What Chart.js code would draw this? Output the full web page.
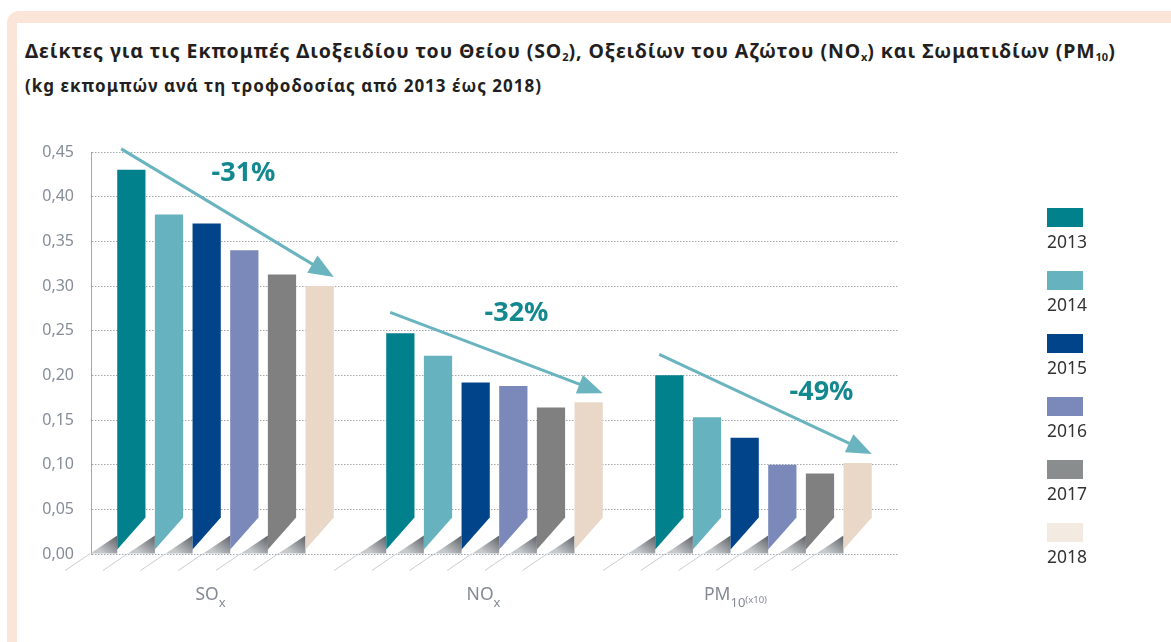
<!DOCTYPE html>
<html>
<head>
<meta charset="utf-8">
<script src="https://cdn.jsdelivr.net/npm/chart.js@4.4.0/dist/chart.umd.min.js"></script>
<style>
  body { margin: 0; width: 1171px; height: 642px; overflow: hidden; position: relative; background: #fff; font-family: "Noto Sans", sans-serif; }
  .frame { position: absolute; left: 7px; top: 11px; width: 1200px; height: 640px; box-sizing: border-box;
           border: solid #fbe5d9; border-width: 12px 0 3px 10px; border-radius: 12px 0 0 0; }
  .title { position: absolute; left: 25px; margin: 0; font-weight: 700; color: #231f20; white-space: nowrap; line-height: 20px; }
  #t1 { top: 41px; font-size: 19.5px; letter-spacing: 0.9px; }
  #t2 { top: 76px; font-size: 17px; letter-spacing: 1px; }
  .title sub { font-size: 11px; vertical-align: -3px; line-height: 0; letter-spacing: 0; }
  #chartBox { position: absolute; left: 0; top: 0; width: 1171px; height: 642px; }
  #legend { position: absolute; left: 1047px; top: 208px; }
  .item { height: 63px; }
  .box { width: 36px; height: 19px; }
  .lab { font-size: 17.5px; color: #333; line-height: 20px; margin-top: 4px; }
</style>
</head>
<body>
<div class="frame"></div>
<div class="title" id="t1">Δείκτες για τις Εκπομπές Διοξειδίου του Θείου (SO<sub>2</sub>), Οξειδίων του Αζώτου (NO<sub>x</sub>) και Σωματιδίων (PM<sub>10</sub>)</div>
<div class="title" id="t2">(kg εκπομπών ανά τη τροφοδοσίας από 2013 έως 2018)</div>
<div id="chartBox"><canvas id="c" width="1171" height="642"></canvas></div>
<div id="legend"></div>
<script>
// categories (x axis), split for subscripts
var categories = ['SOx', 'NOx', 'PM10(x10)'];
var categoryMain = ['SO', 'NO', 'PM'];
var categorySub = ['x', 'x', '10'];
var categorySup = ['', '', '(x10)'];

var years = ['2013', '2014', '2015', '2016', '2017', '2018'];

// kg per t
var values2013 = [0.430, 0.247, 0.200];
var values2014 = [0.380, 0.222, 0.153];
var values2015 = [0.370, 0.192, 0.130];
var values2016 = [0.340, 0.188, 0.100];
var values2017 = [0.313, 0.164, 0.090];
var values2018 = [0.300, 0.170, 0.102];

var changeLabels = ['-31%', '-32%', '-49%'];

var barColors = ['#00818c', '#66b2be', '#02448a', '#7a88ba', '#808080', '#e9d7c8'];
var legendColors = ['#00818c', '#66b2be', '#02448a', '#7a88ba', '#8a8d8e', '#f3eae2'];

var FONT = '"Noto Sans", sans-serif';
var seriesValues = [values2013, values2014, values2015, values2016, values2017, values2018];

/* bars with the bottom corner cut off and a little grey shadow, like the printed 3d look */
var cutBars = {
	id: 'cutBars',
	beforeDatasetDraw: function(chart, args) {
		var ctx = chart.ctx;
		var color = chart.data.datasets[args.index].backgroundColor;
		ctx.save();
		args.meta.data.forEach(function(bar) {
			var p = bar.getProps(['x', 'y', 'base', 'width'], true);
			var l = p.x - p.width / 2, r = p.x + p.width / 2, b = p.base;

			var g = ctx.createLinearGradient(l, b - 18, l - 14, b);
			g.addColorStop(0, '#5c6065');
			g.addColorStop(1, '#c6c9cc');
			ctx.fillStyle = g;
			ctx.beginPath();
			ctx.moveTo(l, b - 18);
			ctx.lineTo(l, b);
			ctx.lineTo(l - 27, b);
			ctx.closePath();
			ctx.fill();

			ctx.strokeStyle = '#c9ccd0';
			ctx.lineWidth = 1;
			ctx.beginPath();
			ctx.moveTo(l - 27, b);
			ctx.lineTo(l - 52, b + 17);
			ctx.stroke();

			ctx.fillStyle = color;
			ctx.beginPath();
			ctx.moveTo(l, p.y);
			ctx.lineTo(r, p.y);
			ctx.lineTo(r, b - 36);
			ctx.lineTo(l, b - 4);
			ctx.closePath();
			ctx.fill();
		});
		ctx.restore();
		return false;
	}
};

/* trend arrows from the first to the last year of every group */
var trendArrows = {
	id: 'trendArrows',
	afterDatasetsDraw: function(chart, args, opts) {
		var ctx = chart.ctx;
		var first = chart.getDatasetMeta(0).data;
		var last = chart.getDatasetMeta(chart.data.datasets.length - 1).data;
		ctx.save();
		for (var i = 0; i < categories.length; i++) {
			var a = first[i], z = last[i];
			var x1 = a.x - a.width / 2 + 4, y1 = a.y - 21;
			var x2 = z.x + z.width / 2, y2 = z.y - 9;
			var len = Math.sqrt((x2 - x1) * (x2 - x1) + (y2 - y1) * (y2 - y1));
			var ux = (x2 - x1) / len, uy = (y2 - y1) / len;
			var hx = x2 - ux * 25, hy = y2 - uy * 25;

			ctx.strokeStyle = opts.color;
			ctx.fillStyle = opts.color;
			ctx.lineWidth = 3;
			ctx.beginPath();
			ctx.moveTo(x1, y1);
			ctx.lineTo(hx + ux * 2, hy + uy * 2);
			ctx.stroke();
			ctx.beginPath();
			ctx.moveTo(x2, y2);
			ctx.lineTo(hx - uy * 10, hy + ux * 10);
			ctx.lineTo(hx + uy * 10, hy - ux * 10);
			ctx.closePath();
			ctx.fill();

			var off = opts.labelOffsets[i];
			ctx.fillStyle = opts.textColor;
			ctx.font = 'bold 27px ' + FONT;
			ctx.textAlign = 'center';
			ctx.textBaseline = 'middle';
			ctx.fillText(changeLabels[i], (x1 + x2) / 2 + off[0], (y1 + y2) / 2 + off[1]);
		}
		ctx.restore();
	}
};

/* category labels under the groups, with sub/superscripts */
var groupLabels = {
	id: 'groupLabels',
	afterDraw: function(chart, args, opts) {
		var ctx = chart.ctx;
		var xs = chart.scales.x;
		var y = chart.chartArea.bottom + 46;
		ctx.save();
		ctx.fillStyle = '#858a92';
		ctx.textBaseline = 'alphabetic';
		ctx.textAlign = 'left';
		for (var i = 0; i < categories.length; i++) {
			ctx.font = '17.5px ' + FONT;
			var w1 = ctx.measureText(categoryMain[i]).width;
			ctx.font = '13px ' + FONT;
			var w2 = ctx.measureText(categorySub[i]).width;
			ctx.font = '9.5px ' + FONT;
			var w3 = ctx.measureText(categorySup[i]).width;
			var x = xs.getPixelForValue(i) + opts.shift[i] - (w1 + w2 + w3) / 2;
			ctx.font = '17.5px ' + FONT;
			ctx.fillText(categoryMain[i], x, y);
			ctx.font = '13px ' + FONT;
			ctx.fillText(categorySub[i], x + w1, y + 7);
			ctx.font = '9.5px ' + FONT;
			ctx.fillText(categorySup[i], x + w1 + w2, y + 3);
		}
		ctx.restore();
	}
};

var datasets = years.map(function(y, i) {
	return {
		label: y,
		data: seriesValues[i],
		backgroundColor: barColors[i],
		barPercentage: 0.75,
		categoryPercentage: 0.84
	};
});

new Chart(document.getElementById('c'), {
	type: 'bar',
	data: { labels: categories, datasets: datasets },
	options: {
		responsive: false,
		animation: false,
		layout: { padding: { top: 152, right: 273, bottom: 88, left: 0 } },
		plugins: {
			legend: { display: false },
			tooltip: { enabled: false },
			trendArrows: { color: '#69b4bf', textColor: '#14888f', labelOffsets: [[16, -40], [20, -39], [56, -12]] },
			groupLabels: { shift: [-15, -11, -28] }
		},
		scales: {
			x: { display: false },
			y: {
				min: 0,
				max: 0.45,
				afterFit: function(s) { s.width = 91; },
				ticks: {
					stepSize: 0.05,
					padding: 17,
					color: '#868d98',
					font: { size: 16, family: FONT },
					callback: function(v) { return v.toFixed(2).replace('.', ','); }
				},
				grid: { color: '#a4a8ad', drawTicks: false },
				border: { display: true, color: '#a8a8a8', dash: [1.5, 1.5] }
			}
		}
	},
	plugins: [cutBars, trendArrows, groupLabels]
});

// legend on the right, box above the year
var legend = document.getElementById('legend');
years.forEach(function(y, i) {
	var item = document.createElement('div');
	item.className = 'item';
	item.innerHTML = '<div class="box" style="background:' + legendColors[i] + '"></div><div class="lab">' + y + '</div>';
	legend.appendChild(item);
});
</script>
</body>
</html>
